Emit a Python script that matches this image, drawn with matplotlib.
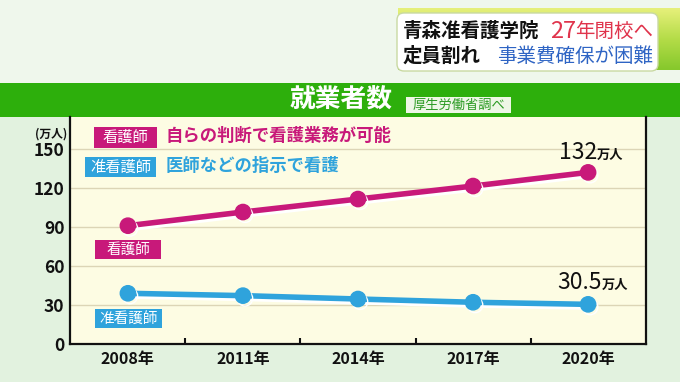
import matplotlib
matplotlib.use("Agg")
import matplotlib.pyplot as plt
import matplotlib.patheffects as pe
from matplotlib.patches import Rectangle, FancyBboxPatch
from matplotlib.colors import LinearSegmentedColormap
import numpy as np

plt.rcParams['font.family'] = ['Noto Sans CJK JP', 'DejaVu Sans']

# data (万人)
years = [2008, 2011, 2014, 2017, 2020]
year_labels = ["2008年", "2011年", "2014年", "2017年", "2020年"]
nurse = [91, 101.5, 111.5, 121.5, 132]
assoc_nurse = [39, 37.2, 34.6, 32.1, 30.5]
yticks = [0, 30, 60, 90, 120, 150]

MAGENTA = '#c8197a'
BLUE = '#2fa3dc'

W, H = 680, 382
fig = plt.figure(figsize=(6.8, 3.82), dpi=100)
fig.patch.set_facecolor('#e2f2df')

# background layer, pixel coordinates
bg = fig.add_axes([0, 0, 1, 1], zorder=-1)
bg.axis('off')
bg.add_patch(Rectangle((0, 0), W, 83, fc='#eff7ec', ec='none'))
bg.add_patch(Rectangle((0, 83), W, 34, fc='#2daf0c', ec='none'))

lime = LinearSegmentedColormap.from_list('lime', ['#e6f07a', '#b4dc48', '#86c82c'])
grad = np.linspace(0, 1, 64).reshape(-1, 1)
bg.imshow(grad, cmap=lime, extent=(398, 680, 70, 8), aspect='auto', zorder=1)
bg.add_patch(FancyBboxPatch((397, 13), 261, 58, boxstyle='round,pad=0,rounding_size=7',
                            fc='white', ec='#c9d9a2', lw=1, zorder=2))
bg.set_xlim(0, W)
bg.set_ylim(H, 0)

# main chart
ax = fig.add_axes([70 / W, (H - 344) / H, 576 / W, 227 / H], zorder=1)
ax.set_facecolor('#fdfce3')
ax.set_xlim(2006.49, 2021.51)
ax.set_ylim(0, 174.6)
for v in yticks[1:]:
    ax.axhline(v, color='#dcd5b6', lw=1, zorder=0)

shadow = [pe.SimpleLineShadow(offset=(1.5, -2), shadow_color='white', alpha=1), pe.Normal()]
ax.plot(years, nurse, color=MAGENTA, lw=4, marker='o', ms=11, zorder=3,
        path_effects=shadow, solid_capstyle='round')
ax.plot(years, assoc_nurse, color=BLUE, lw=4, marker='o', ms=11, zorder=3,
        path_effects=shadow, solid_capstyle='round')

ax.set_yticks(yticks)
ax.set_yticklabels([str(v) for v in yticks], fontsize=12.5, fontweight='bold', color='#111111')
ax.set_xticks(years)
ax.set_xticklabels(year_labels, fontsize=11.5, fontweight='bold', color='#111111')
ax.set_xticks([(a + b) / 2 for a, b in zip(years[:-1], years[1:])], minor=True)
ax.tick_params(axis='y', length=0, pad=4)
ax.tick_params(axis='x', which='major', length=0, pad=5)
ax.tick_params(axis='x', which='minor', direction='in', length=4, width=1.5, color='#111111')
for s in ['left', 'bottom', 'right']:
    ax.spines[s].set_linewidth(1.6)
    ax.spines[s].set_color('#111111')
ax.spines['top'].set_visible(False)

# point labels
ax.annotate("132", xy=(years[-1], nurse[-1]), xytext=(9, 20), textcoords='offset pixels',
            ha='right', va='center', fontsize=16.5, color='#111111')
ax.annotate("万人", xy=(years[-1], nurse[-1]), xytext=(9, 17), textcoords='offset pixels',
            ha='left', va='center', fontsize=9.5, fontweight='bold', color='#111111')
ax.annotate("30.5", xy=(years[-1], assoc_nurse[-1]), xytext=(14, 22), textcoords='offset pixels',
            ha='right', va='center', fontsize=16.5, color='#111111')
ax.annotate("万人", xy=(years[-1], assoc_nurse[-1]), xytext=(14, 19), textcoords='offset pixels',
            ha='left', va='center', fontsize=9.5, fontweight='bold', color='#111111')

# text layer, pixel coordinates
tx = fig.add_axes([0, 0, 1, 1], zorder=2)
tx.patch.set_alpha(0)
tx.axis('off')


def tag(x0, y0, x1, y1, label, color, size):
    tx.add_patch(Rectangle((x0, y0), x1 - x0, y1 - y0, fc=color, ec='none'))
    tx.text((x0 + x1) / 2, (y0 + y1) / 2, label, ha='center', va='center',
            fontsize=size, color='white')


tx.text(51, 134, "(万人)", ha='center', va='center', fontsize=8.5, fontweight='bold', color='#111111')

tag(94, 127, 157, 148, "看護師", MAGENTA, 11)
tx.text(166, 136, "自らの判断で看護業務が可能", ha='left', va='center', fontsize=12.5,
        fontweight='bold', color=MAGENTA)
tag(85, 157, 156, 177, "准看護師", BLUE, 11)
tx.text(166, 166, "医師などの指示で看護", ha='left', va='center', fontsize=12.5,
        fontweight='bold', color=BLUE)

tag(95, 240, 161, 259, "看護師", MAGENTA, 10.5)
tag(95, 309, 162, 328, "准看護師", BLUE, 10.5)

tx.text(341, 100, "就業者数", ha='center', va='center', fontsize=18.5, fontweight='bold', color='white')
tx.add_patch(Rectangle((406, 97), 105, 16, fc='#eef7e6', ec='none'))
tx.text(458.5, 105, "厚生労働省調べ", ha='center', va='center', fontsize=9.5, color='#2a9a22')

tx.text(403, 31, "青森准看護学院", ha='left', va='center', fontsize=14, fontweight='bold', color='#111111')
tx.text(576, 31, "27", ha='right', va='center', fontsize=17, color='#e0344c')
tx.text(653, 31, "年閉校へ", ha='right', va='center', fontsize=14, color='#e0344c')
tx.text(403, 56, "定員割れ", ha='left', va='center', fontsize=14, fontweight='bold', color='#111111')
tx.text(653, 56, "事業費確保が困難", ha='right', va='center', fontsize=14, color='#2e64c4')

tx.set_xlim(0, W)
tx.set_ylim(H, 0)

fig.savefig("out.png", dpi=100, facecolor=fig.get_facecolor())
